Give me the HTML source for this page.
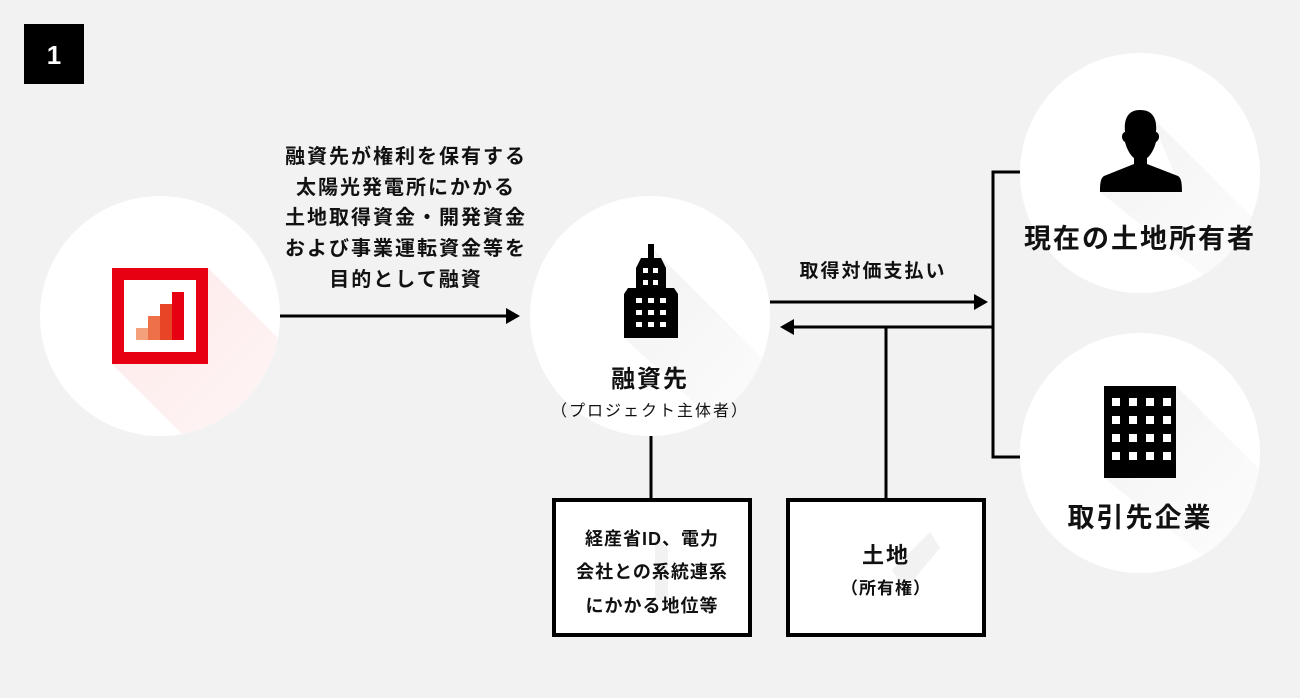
<!DOCTYPE html>
<html><head><meta charset="utf-8"><style>
html,body{margin:0;padding:0;background:#f2f2f2;}
svg{display:block;}
text{font-family:"Liberation Sans","Noto Sans CJK JP",sans-serif;font-weight:bold;fill:#111;}
</style></head><body>
<svg width="1300" height="698" viewBox="0 0 1300 698" xmlns="http://www.w3.org/2000/svg">
<defs>
<linearGradient id="sh" x1="0" y1="0" x2="1" y2="1"><stop offset="0" stop-color="#ececec"/><stop offset="1" stop-color="#fafafa" stop-opacity="0.3"/></linearGradient>
<linearGradient id="shr" x1="0" y1="0" x2="1" y2="1"><stop offset="0" stop-color="#fde8e8"/><stop offset="1" stop-color="#fff5f5" stop-opacity="0.3"/></linearGradient>
<clipPath id="c1"><circle cx="160" cy="316" r="120"/></clipPath>
<clipPath id="c2"><circle cx="650" cy="316" r="120"/></clipPath>
<clipPath id="c3"><circle cx="1140" cy="173" r="120"/></clipPath>
<clipPath id="c4"><circle cx="1140" cy="453" r="120"/></clipPath>
</defs>
<rect width="1300" height="698" fill="#f2f2f2"/>
<rect x="24" y="24" width="60" height="60" fill="#000"/>
<text x="54" y="64" font-size="26" text-anchor="middle" style="fill:#fff">1</text>

<circle cx="160" cy="316" r="120" fill="#fff"/>
<circle cx="650" cy="316" r="120" fill="#fff"/>
<circle cx="1140" cy="173" r="120" fill="#fff"/>
<circle cx="1140" cy="453" r="120" fill="#fff"/>

<!-- shadows -->
<polygon clip-path="url(#c1)" points="208,268 420,480 324,576 112,364" fill="url(#shr)"/>
<polygon clip-path="url(#c2)" points="654,250 850,446 800,500 624,338 678,338" fill="url(#sh)" opacity="0.7"/>
<polygon clip-path="url(#c3)" points="1150,115 1330,295 1290,345 1100,192 1182,192" fill="url(#sh)" opacity="0.7"/>
<polygon clip-path="url(#c4)" points="1176,386 1330,540 1260,600 1104,478 1176,478" fill="url(#sh)" opacity="0.7"/>

<!-- left icon -->
<rect x="118" y="274" width="84" height="84" fill="#fff" stroke="#e60012" stroke-width="12"/>
<rect x="136" y="328" width="12" height="12" fill="#f4a07a"/>
<rect x="148" y="316" width="12" height="24" fill="#ee7048"/>
<rect x="160" y="304" width="12" height="36" fill="#e84527"/>
<rect x="172" y="292" width="12" height="48" fill="#e60012"/>

<!-- middle building -->
<rect x="648" y="244" width="6" height="16" fill="#000"/>
<polygon points="641,258 661,258 666,268 666,290 636,290 636,268" fill="#000"/>
<polygon points="628,288 674,288 678,294 678,338 624,338 624,294" fill="#000"/>
<g fill="#fff">
<rect x="643" y="268" width="5" height="5"/><rect x="653" y="268" width="5" height="5"/>
<rect x="643" y="280" width="5" height="5"/><rect x="653" y="280" width="5" height="5"/>
<rect x="636" y="298" width="6" height="5"/><rect x="648" y="298" width="6" height="5"/><rect x="660" y="298" width="6" height="5"/>
<rect x="636" y="310" width="6" height="5"/><rect x="648" y="310" width="6" height="5"/><rect x="660" y="310" width="6" height="5"/>
<rect x="636" y="322" width="6" height="5"/><rect x="648" y="322" width="6" height="5"/><rect x="660" y="322" width="6" height="5"/>
</g>
<text x="650" y="387" font-size="24" text-anchor="middle" letter-spacing="2">融資先</text>
<text x="650" y="416" font-size="16" text-anchor="middle" style="font-weight:normal" letter-spacing="2">（プロジェクト主体者）</text>

<!-- person -->
<path d="M1140,110 C1126,110 1124,122 1125,132 C1121,133 1121,140 1125,142 C1127,150 1131,156 1134,158 L1134,164 L1104,176 C1101,178 1100,182 1100,192 L1182,192 C1182,182 1181,178 1178,176 L1147,164 L1147,158 C1150,156 1154,150 1156,142 C1160,140 1160,133 1156,132 C1157,122 1155,110 1140,110 Z" fill="#000"/>
<text x="1140" y="248" font-size="27" text-anchor="middle" letter-spacing="2">現在の土地所有者</text>

<!-- office -->
<rect x="1104" y="386" width="72" height="92" fill="#000"/>
<g fill="#fff">
<rect x="1112" y="398" width="8" height="8"/><rect x="1129" y="398" width="8" height="8"/><rect x="1146" y="398" width="8" height="8"/><rect x="1163" y="398" width="8" height="8"/>
<rect x="1112" y="416" width="8" height="8"/><rect x="1129" y="416" width="8" height="8"/><rect x="1146" y="416" width="8" height="8"/><rect x="1163" y="416" width="8" height="8"/>
<rect x="1112" y="434" width="8" height="8"/><rect x="1129" y="434" width="8" height="8"/><rect x="1146" y="434" width="8" height="8"/><rect x="1163" y="434" width="8" height="8"/>
<rect x="1112" y="452" width="8" height="8"/><rect x="1129" y="452" width="8" height="8"/><rect x="1146" y="452" width="8" height="8"/><rect x="1163" y="452" width="8" height="8"/>
</g>
<text x="1140" y="527" font-size="27" text-anchor="middle" letter-spacing="2">取引先企業</text>

<!-- left text -->
<g font-size="20" text-anchor="middle" letter-spacing="2">
<text x="406" y="163">融資先が権利を保有する</text>
<text x="406" y="194">太陽光発電所にかかる</text>
<text x="406" y="224">土地取得資金・開発資金</text>
<text x="406" y="255">および事業運転資金等を</text>
<text x="406" y="286">目的として融資</text>
</g>

<!-- connectors -->
<g stroke="#000" stroke-width="3" fill="none">
<line x1="280" y1="316" x2="510" y2="316"/>
<line x1="770" y1="302" x2="978" y2="302"/>
<line x1="993" y1="327" x2="790" y2="327"/>
<polyline points="1020,172 993,172 993,457 1020,457"/>
<line x1="886" y1="327" x2="886" y2="498"/>
<line x1="651" y1="436" x2="651" y2="498"/>
</g>
<polygon points="520,316 506,308 506,324" fill="#000"/>
<polygon points="988,302 974,294 974,310" fill="#000"/>
<polygon points="780,327 794,319 794,335" fill="#000"/>
<text x="873" y="277" font-size="19" text-anchor="middle" letter-spacing="2">取得対価支払い</text>

<!-- boxes -->
<rect x="554" y="500" width="196" height="135" fill="#fff" stroke="#000" stroke-width="4"/>
<rect x="788" y="500" width="196" height="135" fill="#fff" stroke="#000" stroke-width="4"/>
<polygon points="655,535 668,550 668,600 655,600" fill="#f2f2f2"/>
<polygon points="892,570 930,532 940,548 905,590" fill="#f2f2f2"/>
<g font-size="18" text-anchor="middle" letter-spacing="1">
<text x="652" y="545">経産省ID、電力</text>
<text x="652" y="578">会社との系統連系</text>
<text x="652" y="612">にかかる地位等</text>
</g>
<text x="886" y="563" font-size="22" text-anchor="middle" letter-spacing="2">土地</text>
<text x="886" y="594" font-size="17" text-anchor="middle" letter-spacing="1">（所有権）</text>
</svg>
</body></html>
